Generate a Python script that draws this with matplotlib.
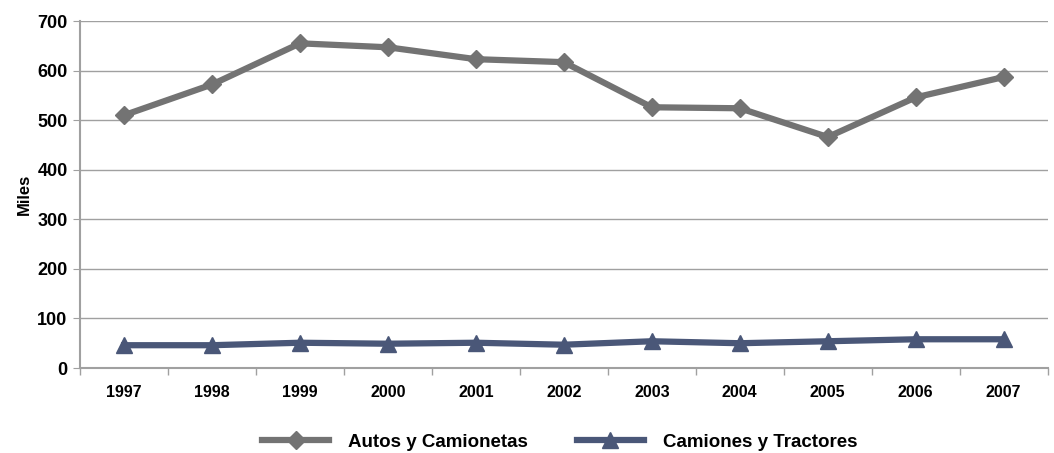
import matplotlib
matplotlib.use("Agg")
import matplotlib.pyplot as plt
import numpy as np

plt.rcParams["font.family"] = ["Liberation Sans", "DejaVu Sans"]
plt.rcParams["font.weight"] = "bold"

# data
years = ["1997", "1998", "1999", "2000", "2001", "2002",
         "2003", "2004", "2005", "2006", "2007"]
autos = [510, 572, 655, 647, 623, 617, 526, 524, 466, 546, 587]
camiones = [46, 46, 51, 49, 51, 47, 54, 50, 54, 58, 58]

gray = "#737373"
navy = "#4a5778"

fig = plt.figure(figsize=(10.54, 4.53), dpi=100)
ax = fig.add_axes([0.076, 0.1876, 0.918, 0.766])

x = np.arange(len(years))
ax.plot(x, autos, color=gray, lw=4.5, marker="D", ms=9, label="Autos y Camionetas")
ax.plot(x, camiones, color=navy, lw=4.5, marker="^", ms=11, label="Camiones y Tractores")

ax.set_xlim(-0.5, len(years) - 0.5)
ax.set_ylim(0, 700)
ax.set_yticks(range(0, 701, 100))
ax.set_xticks(x)
ax.set_xticklabels(years, fontsize=11.5, fontweight="bold")
ax.set_xticks(np.arange(-0.5, len(years), 1), minor=True)
ax.tick_params(axis="x", which="major", length=0, pad=12)
ax.tick_params(axis="x", which="minor", length=5, color="#a0a0a0", width=1)
ax.tick_params(axis="y", length=5, color="#a0a0a0", labelsize=13, pad=4)
for lab in ax.get_yticklabels():
    lab.set_fontweight("bold")

ax.grid(axis="y", color="#a0a0a0", lw=1)
ax.set_axisbelow(True)
for s in ["top", "right"]:
    ax.spines[s].set_visible(False)
ax.spines["left"].set_color("#a0a0a0")
ax.spines["bottom"].set_color("#a0a0a0")
ax.spines["left"].set_linewidth(1.5)
ax.spines["bottom"].set_linewidth(1.5)

ax.set_ylabel("Miles", fontsize=12, fontweight="bold", labelpad=4)

fig.legend(loc="center", bbox_to_anchor=(0.531, 0.024), ncol=2, frameon=False,
           handlelength=3.6, columnspacing=2.6, handletextpad=1.0,
           prop={"weight": "bold", "size": 13.5})

fig.savefig("out.png", dpi=100)
